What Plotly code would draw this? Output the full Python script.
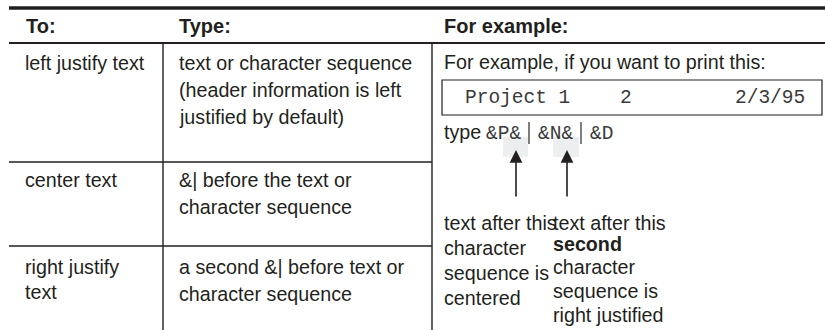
import plotly.graph_objects as go

# ---- table content ----
headers = ["To:", "Type:", "For example:"]
col_to = [["left justify text"], ["center text"], ["right justify", "text"]]
col_type = [["text or character sequence", "(header information is left", "justified by default)"],
            ["&| before the text or", "character sequence"],
            ["a second &| before text or", "character sequence"]]
example_intro = "For example, if you want to print this:"
example_box_items = ["Project 1", "2", "2/3/95"]
type_word = "type"
type_codes = "&P&|&N&|&D"
note_left = ["text after this", "character", "sequence is", "centered"]
note_right = ["text after this", "second", "character", "sequence is", "right justified"]

# ---- layout geometry (pixels) ----
W, H = 825, 330
SANS = "Liberation Sans, Arial, sans-serif"
MONO = "Liberation Mono, Courier New, monospace"
INK = "#231f20"
MONO_INK = "#3a3a3a"
FS = 19.7

fig = go.Figure()
shapes = []
ann = []

def line(x0, y0, x1, y1, w, color=INK):
    shapes.append(dict(type="line", x0=x0, y0=y0, x1=x1, y1=y1,
                       line=dict(color=color, width=w), layer="above"))

def text(x, y, s, size=FS, bold=False, font=SANS, color=INK):
    ann.append(dict(x=x, y=y, xref="x", yref="y", text=("<b>%s</b>" % s) if bold else s,
                    showarrow=False, xanchor="left", yanchor="middle",
                    font=dict(family=font, size=size, color=color)))

# rules
line(9, 8, W, 8, 3.5)
line(9, 43, W, 43, 2.2)
line(163, 43, 163, H, 1.4)
line(432, 43, 432, H, 1.4)
line(9, 162, 432, 162, 1.4)
line(9, 246, 432, 246, 1.4)

# headers
for x, h in zip([24, 177, 442], headers):
    text(x, 26, h, size=20, bold=True)

# row text
row_y0 = [63, 180, 267]
LH = 27
for r, (a, b) in enumerate(zip(col_to, col_type)):
    for i, s in enumerate(a):
        text(23, row_y0[r] + i * (LH - 2), s)
    for i, s in enumerate(b):
        text(177, row_y0[r] + i * LH, s)

# example column
text(442, 62, example_intro)
shapes.append(dict(type="rect", x0=442, y0=80, x1=822, y1=115,
                   line=dict(color=INK, width=1.2), fillcolor="rgba(0,0,0,0)"))
for x, s in zip([463, 618, 733], example_box_items):
    text(x, 98, s, size=19.5, font=MONO, color=MONO_INK)

# highlight boxes behind code tokens
for x0, x1 in [(503, 528), (553, 579)]:
    shapes.append(dict(type="rect", x0=x0, y0=137, x1=x1, y1=157,
                       line=dict(width=0), fillcolor="#eceef0", layer="below"))

text(442, 132, type_word)
codes = type_codes.split("|")
xs = [484, 536, 588]
for i, (x, c) in enumerate(zip(xs, codes)):
    text(x, 134, c, size=19.5, font=MONO, color=MONO_INK)
for x in [529, 581]:
    line(x, 122, x, 144, 1.3, MONO_INK)

# arrows
for x in [516, 567]:
    ann.append(dict(x=x, y=150, ax=x, ay=198, xref="x", yref="y", axref="x", ayref="y",
                    text="", showarrow=True, arrowhead=2, arrowsize=1.6, arrowwidth=1.6,
                    arrowcolor=INK))

for i, s in enumerate(note_left):
    text(442, 223 + i * 25, s)
ys_right = [223, 244, 267, 291, 315]
for y, s in zip(ys_right, note_right):
    text(551, y, s, bold=(s == "second"))

fig.update_layout(
    width=W, height=H, margin=dict(l=0, r=0, t=0, b=0),
    paper_bgcolor="white", plot_bgcolor="white",
    xaxis=dict(range=[0, W], visible=False, fixedrange=True),
    yaxis=dict(range=[H, 0], visible=False, fixedrange=True),
    shapes=shapes, annotations=ann, showlegend=False,
)
fig.write_html("out.html", config=dict(displayModeBar=False),
               post_script="document.body.style.margin='0px';document.body.style.overflow='hidden';")
